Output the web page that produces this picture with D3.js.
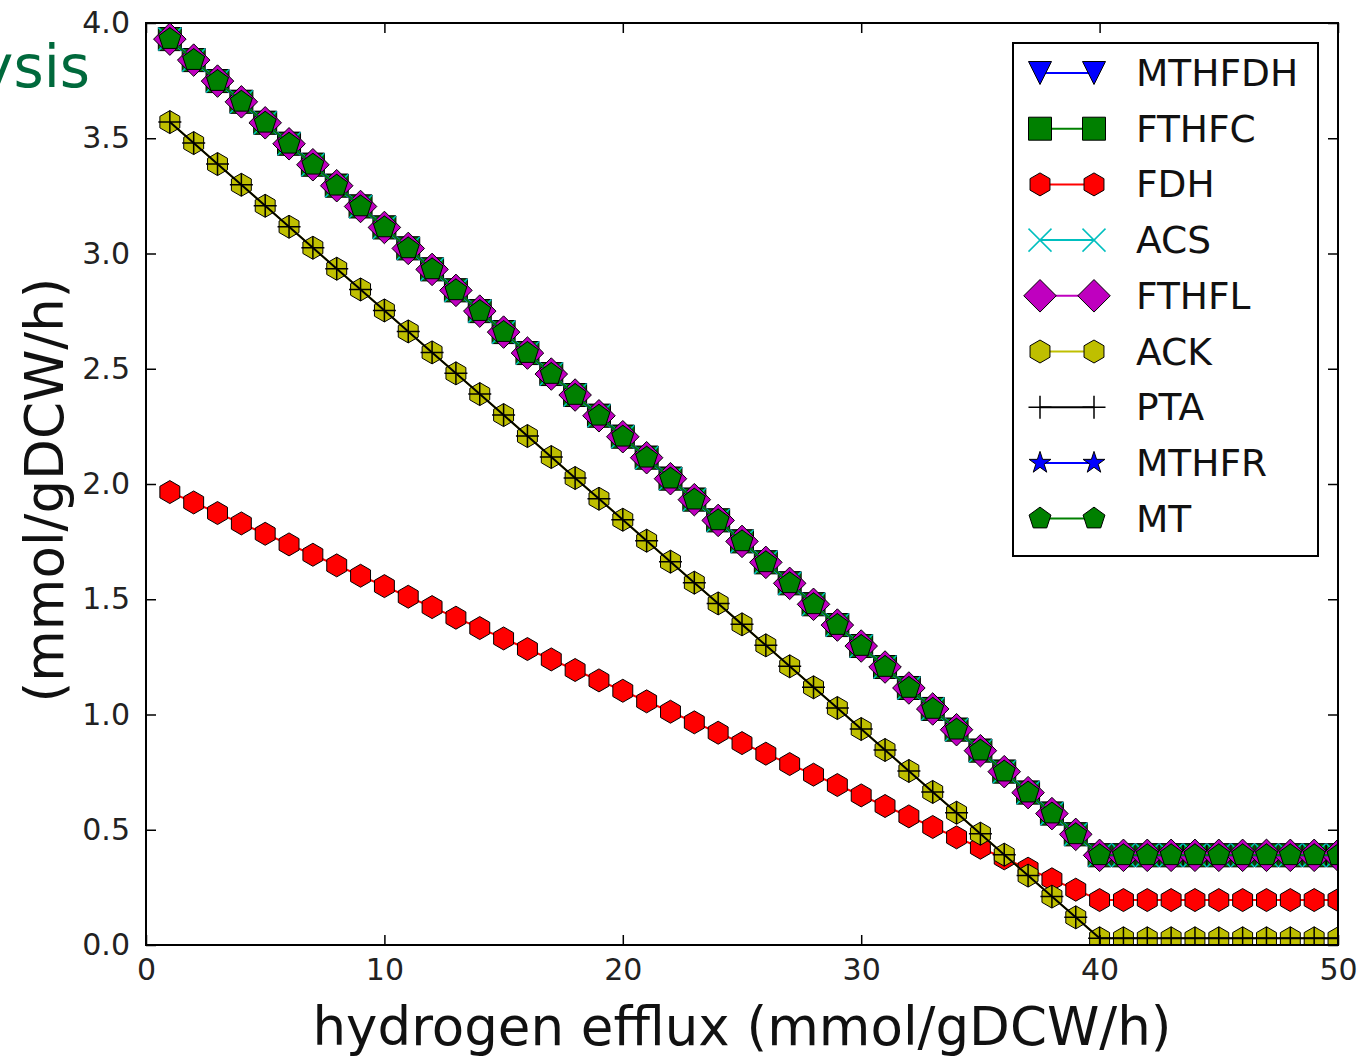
<!DOCTYPE html>
<html><head><meta charset="utf-8">
<script src="https://cdn.jsdelivr.net/npm/d3@7"></script>
<style>body{margin:0;background:#fff}svg{display:block}text{font-family:"DejaVu Sans",sans-serif}</style>
</head><body>
<svg id="c" width="1359" height="1057"></svg>
<script>
// ---- data ----
const xValues = [1,2,3,4,5,6,7,8,9,10,11,12,13,14,15,16,17,18,19,20,21,22,23,24,25,26,27,28,29,30,31,32,33,34,35,36,37,38,39,40,41,42,43,44,45,46,47,48,49,50];
const methylFlux = [3.930,3.839,3.748,3.658,3.567,3.476,3.385,3.294,3.204,3.113,3.022,2.931,2.840,2.750,2.659,2.568,2.477,2.386,2.296,2.205,2.114,2.023,1.932,1.842,1.751,1.660,1.569,1.478,1.388,1.297,1.206,1.115,1.024,0.934,0.843,0.752,0.661,0.570,0.480,0.389,0.389,0.389,0.389,0.389,0.389,0.389,0.389,0.389,0.389,0.389];
const fdhFlux = [1.965,1.920,1.874,1.829,1.784,1.738,1.693,1.647,1.602,1.557,1.511,1.466,1.420,1.375,1.330,1.284,1.239,1.193,1.148,1.103,1.057,1.012,0.966,0.921,0.876,0.830,0.785,0.739,0.694,0.649,0.603,0.558,0.512,0.467,0.422,0.376,0.331,0.285,0.240,0.195,0.195,0.195,0.195,0.195,0.195,0.195,0.195,0.195,0.195,0.195];
const acetateFlux = [3.570,3.479,3.388,3.298,3.207,3.116,3.025,2.934,2.844,2.753,2.662,2.571,2.480,2.390,2.299,2.208,2.117,2.026,1.936,1.845,1.754,1.663,1.572,1.482,1.391,1.300,1.209,1.118,1.028,0.937,0.846,0.755,0.664,0.574,0.483,0.392,0.301,0.210,0.120,0.029,0.029,0.029,0.029,0.029,0.029,0.029,0.029,0.029,0.029,0.029];
const seriesNames = ["MTHFDH","FTHFC","FDH","ACS","FTHFL","ACK","PTA","MTHFR","MT"];
const seriesValues = [methylFlux, methylFlux, fdhFlux, methylFlux, methylFlux, acetateFlux, acetateFlux, methylFlux, methylFlux];
const xTicks = [0,10,20,30,40,50];
const yTicks = [0.0,0.5,1.0,1.5,2.0,2.5,3.0,3.5,4.0];
const xLabel = "hydrogen efflux (mmol/gDCW/h)";
const yLabel = "(mmol/gDCW/h)";
const titleText = "Analysis";

// ---- styles ----
const styles = {
  MTHFDH:{color:"#0000ff", marker:"tridown"},
  FTHFC:{color:"#008000", marker:"square"},
  FDH:{color:"#ff0000", marker:"hexagon"},
  ACS:{color:"#00bfbf", marker:"x"},
  FTHFL:{color:"#bf00bf", marker:"diamond"},
  ACK:{color:"#bfbf00", marker:"hexagon"},
  PTA:{color:"#000000", marker:"plus"},
  MTHFR:{color:"#0000ff", marker:"star"},
  MT:{color:"#008000", marker:"pentagon"}
};
const R = 11.5;
function poly(n, r, rot, inner) {
  const pts = [];
  const k = inner ? n*2 : n;
  for (let i=0;i<k;i++){
    const rr = inner ? (i%2===0 ? r : r*inner) : r;
    const a = rot + i*2*Math.PI/k;
    pts.push([rr*Math.sin(a), -rr*Math.cos(a)]);
  }
  return "M" + pts.map(p=>p[0].toFixed(2)+","+p[1].toFixed(2)).join("L") + "Z";
}
function markerPath(t) {
  switch(t){
    case "tridown": return `M0,${R}L${-R},${-R}L${R},${-R}Z`;
    case "square": return `M${-R},${-R}H${R}V${R}H${-R}Z`;
    case "hexagon": return poly(6, R, 0);
    case "pentagon": return poly(5, R, 0);
    case "star": return poly(5, R, 0, 0.381966);
    case "diamond": { const d = R*Math.SQRT2; return `M0,${-d}L${d},0L0,${d}L${-d},0Z`; }
    case "x": return `M${-R},${-R}L${R},${R}M${-R},${R}L${R},${-R}`;
    case "plus": return `M${-R},0H${R}M0,${-R}V${R}`;
  }
}
const isLineMarker = t => t==="x" || t==="plus";

const svg = d3.select("#c");
const L=146, Rt=1338, T=23, B=945;
const x = d3.scaleLinear().domain([0,50]).range([L,Rt]);
const y = d3.scaleLinear().domain([0,4]).range([B,T]);

svg.append("defs").append("clipPath").attr("id","plotclip")
  .append("rect").attr("x",L).attr("y",T).attr("width",Rt-L).attr("height",B-T);

// title fragment (cut off at the left edge, as in the reference)
svg.append("text").attr("x",90).attr("y",87).attr("text-anchor","end")
  .attr("font-size",58).attr("fill","#00693c").text(titleText);

const plot = svg.append("g").attr("clip-path","url(#plotclip)");
const line = d3.line().x((d,i)=>x(xValues[i])).y(d=>y(d));

seriesNames.forEach((name, si) => {
  const st = styles[name];
  const vals = seriesValues[si];
  const g = plot.append("g");
  g.append("path").attr("d", line(vals)).attr("fill","none")
    .attr("stroke", st.color).attr("stroke-width", 2);
  g.selectAll("path.m").data(vals).enter().append("path").attr("class","m")
    .attr("d", markerPath(st.marker))
    .attr("transform",(d,i)=>`translate(${x(xValues[i])},${y(d)})`)
    .attr("fill", isLineMarker(st.marker) ? "none" : st.color)
    .attr("stroke", isLineMarker(st.marker) ? st.color : "#000")
    .attr("stroke-width", isLineMarker(st.marker) ? 1.5 : 1)
    .attr("stroke-linejoin","miter");
});

// axes
const axB = d3.axisBottom(x).tickValues(xTicks).tickFormat(d3.format("d")).tickSizeInner(-10).tickSizeOuter(0).tickPadding(14);
const axT = d3.axisTop(x).tickValues(xTicks).tickFormat("").tickSizeInner(-10).tickSizeOuter(0);
const axLft = d3.axisLeft(y).tickValues(yTicks).tickFormat(d3.format(".1f")).tickSizeInner(-10).tickSizeOuter(0).tickPadding(16);
const axRgt = d3.axisRight(y).tickValues(yTicks).tickFormat("").tickSizeInner(-10).tickSizeOuter(0);
function styleAxis(g){
  g.select(".domain").remove();
  g.selectAll(".tick line").attr("stroke","#000").attr("stroke-width",1.5);
  g.selectAll("text").attr("font-family","DejaVu Sans").attr("font-size",30).attr("fill","#222");
}
svg.append("g").attr("transform",`translate(0,${B})`).call(axB).call(styleAxis);
svg.append("g").attr("transform",`translate(0,${T})`).call(axT).call(styleAxis);
svg.append("g").attr("transform",`translate(${L},0)`).call(axLft).call(styleAxis);
svg.append("g").attr("transform",`translate(${Rt},0)`).call(axRgt).call(styleAxis);

svg.append("rect").attr("x",L).attr("y",T).attr("width",Rt-L).attr("height",B-T)
  .attr("fill","none").attr("stroke","#000").attr("stroke-width",2);

// axis labels
svg.append("text").attr("x",(L+Rt)/2).attr("y",1045).attr("text-anchor","middle")
  .attr("font-size",53).attr("fill","#111").text(xLabel);
svg.append("text").attr("transform","translate(63,490) rotate(-90)").attr("text-anchor","middle")
  .attr("font-size",53).attr("fill","#111").text(yLabel);

// legend
const lg = svg.append("g");
lg.append("rect").attr("x",1013).attr("y",43).attr("width",305).attr("height",513)
  .attr("fill","#fff").attr("stroke","#000").attr("stroke-width",2);
seriesNames.forEach((name, i) => {
  const st = styles[name];
  const cy = 73 + i*55.7;
  lg.append("line").attr("x1",1040).attr("x2",1094).attr("y1",cy).attr("y2",cy)
    .attr("stroke",st.color).attr("stroke-width",2);
  [1040,1094].forEach(cx => {
    lg.append("path").attr("d",markerPath(st.marker)).attr("transform",`translate(${cx},${cy})`)
      .attr("fill", isLineMarker(st.marker) ? "none" : st.color)
      .attr("stroke", isLineMarker(st.marker) ? st.color : "#000")
      .attr("stroke-width", isLineMarker(st.marker) ? 1.5 : 1);
  });
  lg.append("text").attr("x",1136).attr("y",cy+13).attr("font-size",37.5).attr("fill","#111").text(name);
});
</script>
</body></html>
